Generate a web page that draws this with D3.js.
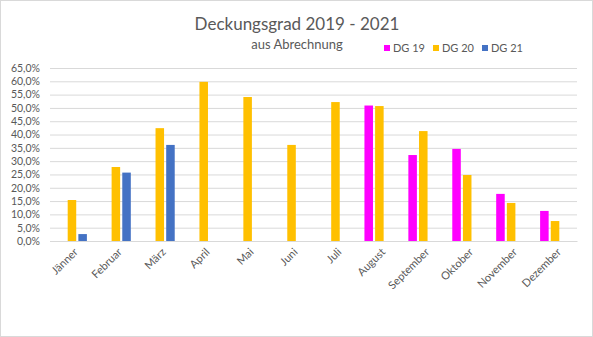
<!DOCTYPE html>
<html><head><meta charset="utf-8">
<script src="https://cdn.jsdelivr.net/npm/d3@7"></script>
<style>body{margin:0;background:#fff}svg{display:block}text{font-family:Lato,"Open Sans",sans-serif}</style>
</head><body>
<script>
const categories = ["Jänner","Februar","März","April","Mai","Juni","Juli","August","September","Oktober","November","Dezember"];
const seriesNames = ["DG 19","DG 20","DG 21"];
const dg19 = [null,null,null,null,null,null,null,50.9,32.3,34.6,17.7,11.3];
const dg20 = [15.4,27.8,42.4,59.8,54.1,36.1,52.2,50.7,41.3,24.8,14.3,7.5];
const dg21 = [2.6,25.7,36.1,null,null,null,null,null,null,null,null,null];
const yTicks = [0,5,10,15,20,25,30,35,40,45,50,55,60,65];
const colors = ["#ff00ff","#ffc000","#4472c4"];
const series = [dg19,dg20,dg21];

(function(){
const W=593,H=337;
const svg=d3.select("body").append("svg").attr("width",W).attr("height",H);
svg.append("rect").attr("x",0.5).attr("y",0.5).attr("width",W-1).attr("height",H-1).attr("fill","#fff").attr("stroke","#d9d9d9");

const pl=50,pr=577,pt=68,pb=241;
const x0=d3.scaleBand().domain(categories).range([pl,pr]).paddingInner(0.32).paddingOuter(0.16);
const x1=d3.scaleBand().domain(seriesNames).range([0,x0.bandwidth()]).paddingInner(0.2);
const y=d3.scaleLinear().domain([0,65]).range([pb,pt]);

const gy=svg.append("g").attr("transform",`translate(${pl},0)`)
  .call(d3.axisLeft(y).tickValues(yTicks).tickSize(-(pr-pl)).tickFormat(d=>d.toFixed(1).replace(".",",")+"%"));
gy.select(".domain").remove();
gy.selectAll(".tick line").attr("stroke","#d9d9d9");
gy.selectAll(".tick text").attr("x",-10).attr("fill","#595959").style("font-size","10.5px").style("font-family","Lato");

series.forEach((s,i)=>{
  svg.append("g").selectAll("rect").data(categories.map((c,j)=>({c,v:s[j]})).filter(d=>d.v!=null))
    .join("rect")
    .attr("x",d=>x0(d.c)+x1(seriesNames[i]))
    .attr("width",x1.bandwidth())
    .attr("y",d=>y(d.v))
    .attr("height",d=>y(0)-y(d.v))
    .attr("fill",colors[i]);
});

const gx=svg.append("g").attr("transform",`translate(0,${pb})`).call(d3.axisBottom(x0).tickSize(0));
gx.select(".domain").attr("stroke","#d9d9d9");
gx.selectAll(".tick text").attr("fill","#595959").style("font-size","11px").style("font-family","Lato")
  .attr("text-anchor","end").attr("transform","translate(4,9) rotate(-45)").attr("dy","0.35em").attr("y",0).attr("x",0);

svg.append("text").attr("x",297).attr("y",30).attr("text-anchor","middle").attr("fill","#595959").style("font-size","17px").style("font-family","Lato").text("Deckungsgrad 2019 - 2021");
svg.append("text").attr("x",297).attr("y",49).attr("text-anchor","middle").attr("fill","#595959").style("font-size","13px").style("font-family","Lato").text("aus Abrechnung");

const lg=svg.append("g");
const lx=[384,433,482];
seriesNames.forEach((n,i)=>{
  lg.append("rect").attr("x",lx[i]).attr("y",45).attr("width",6).attr("height",6).attr("fill",colors[i]);
  lg.append("text").attr("x",lx[i]+9).attr("y",52).attr("fill","#595959").style("font-size","11px").style("font-family","Lato").text(n);
});
})();
</script>
</body></html>
